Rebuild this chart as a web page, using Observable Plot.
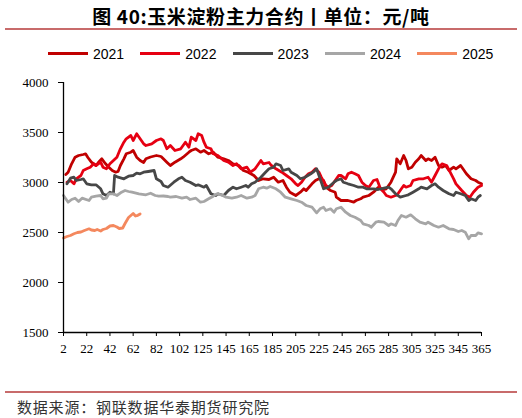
<!DOCTYPE html>
<html>
<head>
<meta charset="utf-8">
<script src="https://cdn.jsdelivr.net/npm/d3@7"></script>
<script src="https://cdn.jsdelivr.net/npm/@observablehq/plot@0.6"></script>
<style>
  html, body { margin: 0; padding: 0; background: #fff; }
  #wrap { position: relative; width: 522px; height: 418px; overflow: hidden; }
  #chart { position: absolute; left: 0; top: 0; }
  .title { position: absolute; left: 0; width: 522px; top: 3px; text-align: center;
    font-family: "Noto Sans CJK SC", sans-serif; font-weight: bold; font-size: 19px; letter-spacing: 0.6px; color: #000; line-height: 26px; }
  .sep { position: absolute; left: 5px; width: 512px; height: 0; border-top: 2px solid #c86b6b; }
  .legend { position: absolute; top: 44px; left: 0; width: 522px; height: 20px;
    font-family: "Liberation Sans", Arial, sans-serif; font-size: 14px; color: #000; }
  .legend .item { position: absolute; top: 0; height: 20px; }
  .legend .sw { position: absolute; top: 8px; width: 40px; height: 3px; left: 0; }
  .legend .lb { position: absolute; left: 45px; top: 1px; line-height: 18px; }
  .source { position: absolute; left: 17px; top: 397px; font-family: "Noto Sans CJK SC", sans-serif;
    font-size: 15px; letter-spacing: 0.8px; color: #333; line-height: 20px; }
</style>
</head>
<body>
<div id="wrap">
  <div id="chart"></div>
  <div class="title">图 40:玉米淀粉主力合约丨单位：元/吨</div>
  <div class="sep" style="top:28px"></div>
  <div class="legend" id="legend"></div>
  <div class="sep" style="top:391px"></div>
  <div class="source">数据来源：钢联数据华泰期货研究院</div>
</div>
<script>
// ---- data ----
const years = ["2021", "2022", "2023", "2024", "2025"];
const yearColors = ["#c00000", "#e60012", "#474747", "#a6a6a6", "#f4885e"];

const xTickIdx = [0, 20, 40, 60, 80, 100, 120, 140, 160, 180, 200, 220, 240, 260, 280, 300, 320, 340, 360];
const xTickLabels = ["2", "22", "42", "62", "82", "102", "125", "145", "165", "185", "205", "225", "245", "265", "285", "305", "325", "345", "365"];
const yTicks = [1500, 2000, 2500, 3000, 3500, 4000];

const x2021 = [2,4,7,10,13,17,19,21,24,28,30,33,36,39,42,45,47,49,52,54,58,60,63,66,69,71,75,80,84,86,89,92,96,101,103,108,110,114,118,121,125,129,133,138,142,146,151,155,159,164,168,172,177,181,185,189,192,195,200,204,207,209,214,217,220,224,226,230,234,235,239,245,250,252,256,258,263,267,270,271,276,278,282,286,287,290,293,295,297,300,303,306,308,312,314,317,320,323,326,329,332,336,338,342,344,347,351,355,357,360];
const v2021 = [3080,3103,3187,3253,3270,3280,3287,3250,3203,3170,3200,3237,3190,3153,3120,3103,3110,3170,3237,3287,3303,3320,3253,3220,3200,3237,3255,3270,3260,3237,3203,3170,3203,3237,3253,3303,3320,3337,3303,3320,3287,3303,3253,3237,3220,3187,3170,3120,3103,3070,3020,3037,3030,3053,3003,3020,2953,2903,2870,2903,2937,2920,2987,3020,3037,3020,2953,2920,2903,2853,2820,2820,2803,2820,2837,2853,2870,2903,2937,2950,2930,2937,3003,3103,3237,3187,3270,3220,3137,3153,3203,3237,3270,3220,3237,3220,3253,3170,3153,3170,3120,3153,3137,3170,3137,3087,3037,3020,3003,2987];

const x2022 = [3,6,9,11,15,17,20,23,26,28,32,34,37,40,43,46,49,52,54,58,60,63,66,69,71,76,80,84,86,89,92,96,101,105,108,110,114,116,119,121,123,127,129,133,138,142,146,149,153,158,161,165,170,172,177,179,183,188,192,196,200,202,205,208,211,214,217,220,222,226,228,231,234,237,239,243,245,248,251,254,257,260,263,267,270,273,276,278,282,286,288,293,295,299,301,306,310,314,317,320,323,326,330,333,336,338,343,347,350,353,357,360];
const v2022 = [3003,3020,2987,3037,3070,3120,3137,3153,3187,3170,3203,3153,3137,3187,3220,3253,3337,3403,3437,3470,3420,3487,3437,3387,3370,3387,3420,3437,3420,3337,3370,3320,3337,3403,3353,3453,3420,3487,3470,3403,3353,3337,3287,3270,3220,3203,3170,3187,3137,3153,3103,3137,3220,3187,3200,3170,3137,3103,3070,3037,2987,2970,3003,3053,3087,3103,3137,3103,3053,2970,2953,2970,3020,3070,3070,3037,3087,3103,3087,3070,3003,2970,2953,3020,3030,2937,2903,2870,2853,2870,2887,2970,2953,2970,3020,3037,3037,3053,3003,3070,3137,3187,3170,3103,3037,2987,2920,2870,2853,2903,2953,2970];

const x2023 = [3,6,9,11,15,17,20,24,28,32,34,37,40,43,44,47,52,56,60,63,66,69,73,78,80,84,86,90,95,99,102,105,109,114,116,121,123,127,131,133,138,142,146,149,153,157,159,162,165,170,174,177,181,183,187,189,194,196,201,204,208,213,215,218,221,224,228,233,235,239,241,245,250,254,258,261,265,267,271,276,280,282,286,290,295,297,301,306,308,313,317,320,323,327,332,336,338,342,346,349,351,355,357,359];
const v2023 = [2987,3043,3053,3020,3030,3037,2987,2977,2977,2937,2887,2870,2903,2887,3070,3053,3037,3063,3070,3093,3087,3103,3110,3120,3037,3010,2970,2953,3003,3037,3053,3020,3003,2970,2977,2953,2970,2887,2870,2887,2870,2920,2953,2937,2953,2970,2953,2987,3003,3053,3103,3137,3153,3187,3170,3120,3137,3103,3070,3037,3053,3087,3103,3137,3037,2937,2953,3003,3020,3037,3003,2987,2970,2953,2953,2937,2937,2937,2930,2943,2953,2937,2887,2853,2870,2877,2903,2937,2953,2937,2970,2987,2953,2920,2887,2870,2903,2887,2870,2820,2837,2820,2853,2870];

const x2024 = [0,4,7,10,13,16,22,24,28,32,34,37,39,43,46,50,53,56,59,65,71,75,79,82,86,90,92,97,102,106,109,114,118,121,125,129,132,136,140,145,149,153,158,162,165,168,172,175,178,183,187,191,196,201,205,209,214,218,221,224,226,230,233,235,239,243,247,251,256,258,263,265,269,271,276,280,282,286,288,291,295,299,303,307,312,314,319,323,327,332,336,340,343,346,349,351,355,357,360];
const v2024 = [2870,2803,2830,2843,2810,2843,2820,2853,2863,2870,2837,2843,2887,2887,2870,2903,2920,2910,2903,2887,2877,2893,2870,2863,2865,2860,2853,2860,2843,2853,2830,2843,2803,2810,2837,2863,2887,2877,2853,2843,2853,2870,2843,2853,2870,2937,2953,2943,2960,2937,2903,2853,2837,2820,2803,2770,2753,2697,2737,2753,2720,2737,2703,2737,2753,2703,2670,2653,2620,2587,2570,2553,2603,2610,2603,2570,2587,2570,2620,2670,2653,2677,2637,2603,2587,2603,2570,2553,2570,2537,2530,2510,2520,2503,2437,2470,2470,2497,2487];

const x2025 = [0,3,6,9,12,15,18,22,24,27,29,32,34,37,40,43,46,48,51,53,56,59,60,62,64,66];
const v2025 = [2445,2460,2470,2487,2500,2505,2520,2537,2525,2520,2530,2515,2530,2540,2565,2570,2555,2540,2545,2590,2650,2680,2690,2665,2672,2685];

// ---- build table ----
const seriesX = [x2021, x2022, x2023, x2024, x2025];
const seriesV = [v2021, v2022, v2023, v2024, v2025];
const rows = [];
years.forEach((y, k) => {
  d3.zip(seriesX[k], seriesV[k]).forEach(([i, v]) => rows.push({year: y, i, v}));
});

const chart = Plot.plot({
  width: 522,
  height: 418,
  marginTop: 82,
  marginBottom: 86,
  marginLeft: 63,
  marginRight: 41,
  style: {fontFamily: "'Liberation Serif', 'Times New Roman', serif", fontSize: "13px", color: "#000", background: "transparent"},
  x: {domain: [0, 360]},
  y: {domain: [1500, 4000]},
  color: {domain: years, range: yearColors},
  marks: [
    Plot.axisY({ticks: yTicks, tickSize: 5, tickPadding: 10, label: null, tickFormat: d => String(d), fontSize: 13}),
    Plot.axisX({ticks: xTickIdx, tickSize: 4, tickPadding: 7, label: null,
      tickFormat: d => xTickLabels[xTickIdx.indexOf(d)], fontSize: 13}),
    Plot.line(rows, {x: "i", y: "v", z: "year", stroke: "year", strokeWidth: 2.8,
      strokeLinejoin: "round", strokeLinecap: "round"}),
    Plot.ruleX([0], {stroke: "#000", strokeWidth: 1.3}),
    Plot.ruleY([1500], {stroke: "#000", strokeWidth: 1.3})
  ]
});
document.getElementById("chart").appendChild(chart);

// ---- legend ----
const legend = document.getElementById("legend");
years.forEach((y, k) => {
  const it = document.createElement("div");
  it.className = "item";
  it.style.left = (48 + k * 92.3) + "px";
  const sw = document.createElement("div");
  sw.className = "sw";
  sw.style.background = yearColors[k];
  const lb = document.createElement("div");
  lb.className = "lb";
  lb.textContent = y;
  it.appendChild(sw); it.appendChild(lb);
  legend.appendChild(it);
});
</script>
</body>
</html>
